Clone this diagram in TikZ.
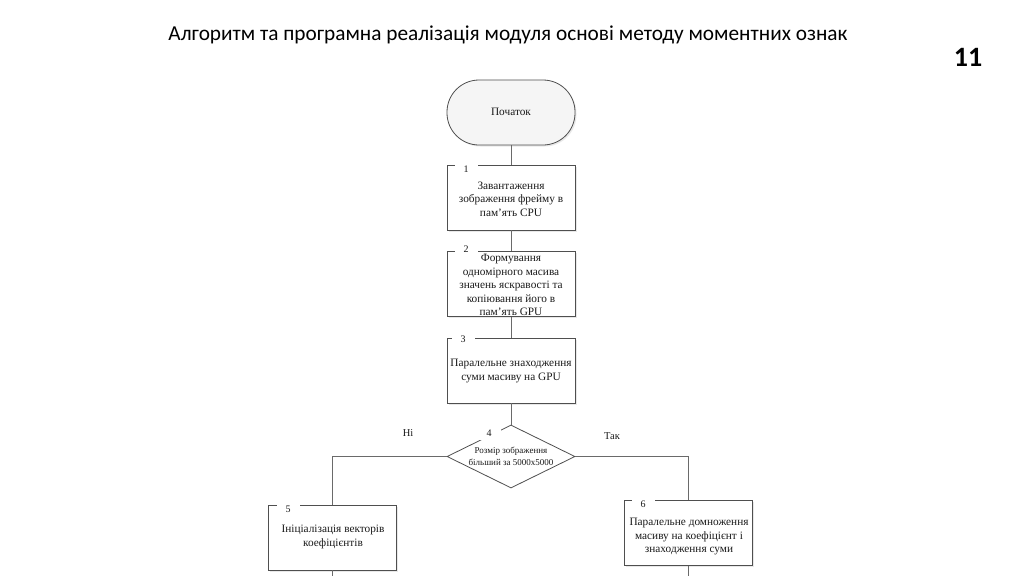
\documentclass[tikz,border=0pt]{standalone}
\usepackage{fontspec}
\setmainfont{Liberation Serif}
\newfontfamily\titlefont{Carlito}
\usetikzlibrary{shapes.geometric,shadows}
\definecolor{bordc}{HTML}{4F4F4F}
\definecolor{linec}{HTML}{6A6A6A}
\definecolor{termfill}{HTML}{F5F5F5}
\definecolor{txtc}{HTML}{1A1A1A}
\begin{document}
\begin{tikzpicture}[x=1pt,y=-1pt,
  boxshape/.style={draw=bordc,line width=0.8pt,fill=white,minimum width=128pt,minimum height=65pt,inner sep=0pt,
    drop shadow={opacity=0.18,shadow xshift=1.5pt,shadow yshift=-1.5pt}},
  termshape/.style={boxshape,fill=termfill,rounded corners=32pt},
  decshape/.style={diamond,draw=bordc,line width=0.8pt,fill=white,minimum width=128pt,minimum height=63pt,aspect=2.03,inner sep=0pt},
  numlab/.style={fill=white,text=txtc,inner sep=0pt,minimum width=23pt,minimum height=12pt,font=\fontsize{10}{11}\selectfont},
  boxtxt/.style={align=center,text=txtc,inner sep=0pt,font=\fontsize{11.3}{13.5}\selectfont},
  dectxt/.style={align=center,text=txtc,inner sep=0pt,font=\fontsize{9}{12}\selectfont},
  conn/.style={draw=linec,line width=0.9pt}]
\useasboundingbox[fill=white] (0,0) rectangle (1024,576);

\node[font=\titlefont\fontsize{21.3}{24}\selectfont] (title) at (508,35) {Алгоритм та програмна реалізація модуля основі методу моментних ознак};
\node[font=\titlefont\bfseries\fontsize{28}{30}\selectfont] (page) at (968,57) {11};

% shapes
\node[termshape] (start) at (511,112.5) {};
\node[boxshape] (b1) at (511,197.5) {};
\node[boxshape] (b2) at (511,284) {};
\node[boxshape] (b3) at (511,370.5) {};
\node[decshape] (d4) at (511,456.5) {};
\node[boxshape] (b5) at (332.5,537.5) {};
\node[boxshape] (b6) at (688,533) {};
\coordinate (e5) at (332.5,576);
\coordinate (e6) at (688,576);

% connectors
\draw[conn] (start) -- (b1);
\draw[conn] (b1) -- (b2);
\draw[conn] (b2) -- (b3);
\draw[conn] (b3) -- (d4);
\draw[conn] (d4.west) -| (b5.north);
\draw[conn] (d4.east) -| (b6.north);
\draw[conn] (b5) -- (e5);
\draw[conn] (b6) -- (e6);

% texts
\node[boxtxt] (tstart) at (511,112) {Початок};
\node[numlab] (n1) at (466,169) {1};
\node[boxtxt] (t1) at (511,199) {Завантаження\\зображення фрейму в\\пам’ять CPU};
\node[numlab] (n2) at (466,249) {2};
\node[boxtxt] (t2) at (511,285) {Формування\\одномірного масива\\значень яскравості та\\копіювання його в\\пам’ять GPU};
\node[numlab] (n3) at (463,339) {3};
\node[boxtxt] (t3) at (511,371) {Паралельне знаходження\\суми масиву на GPU};
\node[numlab,minimum height=14pt] (n4) at (489,433) {4};
\node[dectxt] (t4) at (511,456) {Розмір зображення\\більший за 5000х5000};
\node[boxtxt,font=\fontsize{10.5}{12}\selectfont] (no) at (408,433) {Ні};
\node[boxtxt,font=\fontsize{10.5}{12}\selectfont] (yes) at (612,436) {Так};
\node[numlab] (n5) at (288,509) {5};
\node[boxtxt] (t5) at (333,537) {Ініціалізація векторів\\коефіцієнтів};
\node[numlab] (n6) at (643,504) {6};
\node[boxtxt] (t6) at (689,537) {Паралельне домноження\\масиву на коефіцієнт і\\знаходження суми};
\end{tikzpicture}
\end{document}
